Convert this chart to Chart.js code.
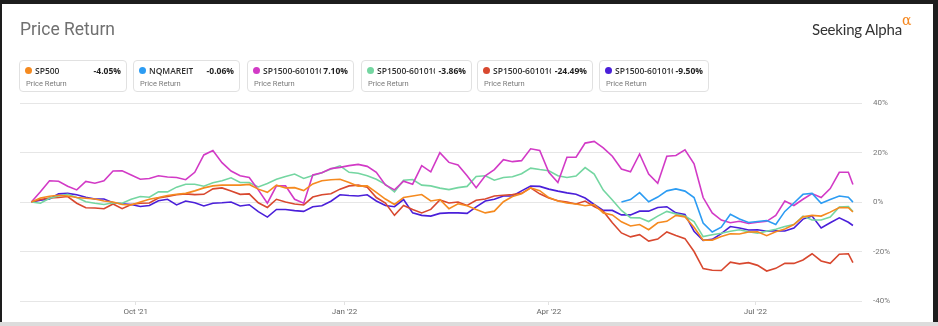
<!DOCTYPE html>
<html>
<head>
<meta charset="utf-8">
<script src="https://cdn.jsdelivr.net/npm/chart.js@4/dist/chart.umd.min.js"></script>
<style>
  html, body { margin: 0; padding: 0; }
  body { width: 938px; height: 326px; position: relative; overflow: hidden; background: #1d1d1d;
         font-family: Roboto, "Noto Sans", sans-serif; }
  #card { position: absolute; left: 2px; top: 4px; width: 931px; height: 318px; background: #fff; }
  #foot { position: absolute; left: 0; top: 322px; width: 938px; height: 4px; background: #dcdcdc; }
  #chart { position: absolute; left: 0; top: 0; }
  .title { position: absolute; left: 20px; top: 18px; font-size: 17.5px; line-height: 22px; color: #707070; }
  .brand { position: absolute; left: 812px; top: 20px; font-family: Lato, sans-serif; font-size: 15px;
           line-height: 18px; color: #333; letter-spacing: -0.2px; white-space: nowrap; }
  .alpha { position: absolute; left: 902px; top: 12px; color: #f5871f; font-size: 14px; line-height: 16px;
           font-family: "DejaVu Serif", serif; }
  .leg { position: absolute; top: 60px; height: 32px; box-sizing: border-box; border: 1px solid #e1e1e1;
         border-radius: 4px; background: #fff; }
  .dot { position: absolute; left: 4.5px; top: 6.2px; width: 7px; height: 7px; border-radius: 50%; }
  .row { position: absolute; left: 15px; right: 5px; top: 3.5px; display: flex;
         font-family: "Open Sans", sans-serif; font-size: 8.5px; line-height: 12px; }
  .nm { flex: 0 0 auto; overflow: hidden; white-space: nowrap; max-width: 57.5px; color: #2f2f2f; font-weight: 600; }
  .val { margin-left: auto; flex: 0 0 auto; white-space: nowrap; font-weight: 700; color: #1f1f1f; }
  .sub { position: absolute; left: 6px; top: 17.5px; font-size: 7.5px; line-height: 9px; color: #7a7a7a; }
</style>
</head>
<body>
<div id="card"></div>
<div id="foot"></div>
<canvas id="chart" width="938" height="326"></canvas>
<div class="title">Price Return</div>
<div class="brand">Seeking Alpha</div>
<div class="alpha">α</div>
<div id="legend"></div>
<script>
// Days counted from 16 Aug 2021 (start of the one-year window).
const days = [
  0, 4, 8, 12, 16, 20, 24, 28, 32, 36, 40, 44, 48, 52, 56, 60, 64, 68, 72, 76,
  80, 84, 88, 92, 96, 100, 104, 108, 112, 116, 120, 124, 128, 132, 136, 140, 144, 148, 152, 156,
  160, 164, 168, 172, 176, 180, 184, 188, 192, 196, 200, 204, 208, 212, 216, 220, 224, 228, 232, 236,
  240, 244, 248, 252, 256, 260, 264, 268, 272, 276, 280, 284, 288, 292, 296, 300, 304, 308, 312, 316,
  320, 324, 328, 332, 336, 340, 344, 348, 352, 356, 360, 362
];

// Cumulative price return, %
const sp500 = [
  0, 1.6, 2.3, 2.7, 2.4, 1.8, 1.5, 1.2, 0.4, 0,
  -1.0, -1.2, 0, 1.1, 1.8, 2.6, 3.1, 3.5, 4.5, 5.7,
  6.5, 6.8, 6.8, 6.8, 7.1, 5.2, 3.9, 6.8, 5.7, 5.8,
  4.6, 7.3, 8.6, 9.0, 9.2, 7.9, 6.4, 6.5, 3.9, 1.2,
  -1.0, 1.8, 2.4, 3.0, 0.4, 1.0, -2.7, -0.7, -1.5, -3.0,
  -4.4, -3.7, 0.1, 2.2, 3.3, 5.7, 4.6, 1.8, 0.4, -0.4,
  -0.8, -1.5, -1.0, -4.4, -5.2, -8.0, -9.7, -9.1, -11.2, -8.4,
  -7.8, -5.4, -6.0, -10.2, -15.4, -15.4, -13.9, -12.8, -12.9, -12.1,
  -12.0, -13.6, -12.0, -10.9, -9.1, -6.0, -5.4, -5.7, -4.1, -2.2,
  -2.3, -4.05
];

const nqmareit = [
  null, null, null, null, null, null, null, null, null, null,
  null, null, null, null, null, null, null, null, null, null,
  null, null, null, null, null, null, null, null, null, null,
  null, null, null, null, null, null, null, null, null, null,
  null, null, null, null, null, null, null, null, null, null,
  null, null, null, null, null, null, null, null, null, null,
  null, null, null, null, null, 0, 1.0, 3.8, 0.1, 2.0,
  4.5, 5.3, 4.4, 1.8, -8.5, -12.1, -10.2, -5.0, -6.9, -8.3,
  -7.9, -7.5, -9.1, -3.8, -0.4, 3.1, 3.5, -0.5, 1.0, 2.4,
  1.9, -0.06
];

const sp1500A = [
  0, 4.1, 8.6, 8.4, 6.4, 4.9, 8.3, 7.6, 8.6, 12.5,
  12.6, 10.9, 9.2, 9.5, 10.6, 10.1, 9.9, 9.0, 12.0, 19.0,
  20.8, 15.9, 12.5, 10.6, 9.9, 4.9, -0.5, 6.5, 6.5, 1.1,
  -0.5, 10.9, 11.8, 13.5, 14.0, 14.7, 15.2, 14.4, 12.0, 6.9,
  4.9, 8.4, 7.2, 14.7, 12.2, 19.9, 16.0, 15.0, 10.6, 5.8,
  10.6, 13.1, 17.1, 16.3, 16.7, 21.5, 20.8, 12.0, 7.9, 18.1,
  18.1, 23.8, 24.5, 21.9, 18.5, 13.3, 12.2, 19.4, 11.3, 7.6,
  18.5, 18.8, 21.1, 15.4, 1.8, -4.4, -7.3, -8.4, -7.8, -8.7,
  -8.2, -7.8, -5.4, 0.4, -1.4, 1.1, 3.4, 1.8, 5.4, 12.0,
  12.0, 7.10
];

const sp1500B = [
  0, -0.5, 1.5, 2.4, 3.1, 1.8, 0.1, -0.5, -1.0, -0.3,
  -0.5, 1.1, 2.2, 1.9, 4.1, 4.1, 6.0, 7.2, 7.2, 6.4,
  7.8, 8.6, 9.8, 7.9, 7.9, 6.1, 7.5, 9.2, 10.3, 11.3,
  9.5, 10.7, 11.8, 13.3, 14.6, 12.0, 11.6, 10.6, 9.2, 7.1,
  4.1, 8.8, 9.1, 6.8, 6.5, 5.6, 5.0, 5.8, 6.3, 10.3,
  10.6, 8.8, 9.9, 10.2, 11.4, 13.7, 13.1, 12.6, 10.6, 9.9,
  10.5, 13.9, 11.3, 4.8, 0.8, -3.4, -6.3, -6.4, -7.9, -5.7,
  -3.8, -4.8, -5.7, -7.9, -14.0, -13.2, -12.6, -11.8, -11.2, -12.0,
  -12.6, -11.8, -11.0, -9.9, -9.1, -5.7, -7.3, -7.3, -6.1, -2.0,
  -1.8, -3.86
];

const sp1500C = [
  0, 1.0, 1.6, 1.8, 2.2, -0.5, -2.3, -2.4, -2.7, -0.8,
  -2.7, -1.0, -0.5, -0.4, 1.6, 2.2, 2.9, 3.3, 3.0, 3.1,
  5.3, 5.7, 4.4, 3.1, 3.3, -0.3, -2.2, 1.1, 0, -0.8,
  -1.2, 2.0, 2.9, 3.3, 5.2, 6.5, 6.8, 6.0, 1.8, -0.4,
  -5.4, -1.4, -3.0, -4.4, -3.0, 0.8, -0.4, 0, -1.4, 0.7,
  1.2, 2.4, 2.7, 3.0, 3.5, 5.7, 3.3, 1.6, 0.5, 0,
  -0.8, 0.4, -1.8, -3.7, -8.4, -12.5, -14.1, -13.2, -15.8, -15.0,
  -12.1, -13.5, -14.8, -20.0, -26.9, -27.6, -27.7, -24.3, -25.0, -24.5,
  -25.6, -27.9, -26.8, -24.8, -24.8, -23.4, -20.9, -23.8, -24.8, -21.1,
  -20.9, -24.49
];

const sp1500D = [
  0, 0.7, 1.2, 3.3, 3.5, 2.9, 1.9, 1.2, 1.2, -0.3,
  -0.7, -1.0, -1.8, -1.4, 0.5, 1.1, -1.2, 0.4, -0.3, -1.6,
  -0.5, -0.3, 0, -1.6, -1.1, -3.9, -6.1, -3.0, -3.0, -3.5,
  -3.8, -1.9, -1.5, 0.3, 2.9, 2.6, 2.4, 2.9, 0.4, -1.4,
  -1.9, 1.0, -4.4, -5.4, -5.7, -4.6, -4.4, -4.4, -4.6, -2.0,
  0.4, 1.1, 2.4, 2.4, 4.5, 6.4, 6.3, 5.2, 4.4, 3.7,
  3.1, 1.6, -1.0, -3.4, -3.4, -5.2, -5.2, -3.7, -3.7, -2.2,
  -1.9, -4.4, -5.0, -11.8, -15.5, -15.1, -12.8, -9.9, -10.5, -11.3,
  -11.2, -11.8, -11.6, -11.7, -10.5, -6.9, -5.7, -10.5, -8.4, -6.4,
  -8.2, -9.50
];

const seriesNames = ['SP500', 'NQMAREIT', 'SP1500-60101060', 'SP1500-60101020', 'SP1500-60101040', 'SP1500-60101080'];
const seriesValues = [sp500, nqmareit, sp1500A, sp1500B, sp1500C, sp1500D];
const seriesColors = ['#f58a1f', '#2c9cf3', '#d23ac6', '#74d6a1', '#d8482f', '#4a1fd9'];
const subLabel = 'Price Return';

const tickDays = [46, 138, 228, 319];
const tickLabels = ["Oct '21", "Jan '22", "Apr '22", "Jul '22"];
const yTicks = [-40, -20, 0, 20, 40];

// Legend cards above the plot
const cardLeft = [19, 133, 247, 361, 477, 599];
const cardWidth = [108, 107, 107, 111, 116, 110];
const legend = document.getElementById('legend');
seriesNames.forEach((name, i) => {
  const vals = seriesValues[i];
  const last = vals[vals.length - 1];
  const card = document.createElement('div');
  card.className = 'leg';
  card.style.left = cardLeft[i] + 'px';
  card.style.width = cardWidth[i] + 'px';
  card.innerHTML =
    '<span class="dot" style="background:' + seriesColors[i] + '"></span>' +
    '<div class="row"><span class="nm">' + name + '</span><span class="val">' + last.toFixed(2) + '%</span></div>' +
    '<div class="sub">' + subLabel + '</div>';
  legend.appendChild(card);
});

Chart.defaults.font.family = 'Roboto, "Noto Sans", sans-serif';

new Chart(document.getElementById('chart'), {
  type: 'line',
  data: {
    datasets: seriesNames.map((name, i) => ({
      label: name,
      data: days.map((d, j) => ({ x: d, y: seriesValues[i][j] })),
      borderColor: seriesColors[i],
      backgroundColor: seriesColors[i],
      borderWidth: 1.6,
      pointRadius: 0,
      tension: 0,
      spanGaps: false
    }))
  },
  options: {
    responsive: false,
    animation: false,
    devicePixelRatio: 1,
    layout: { padding: { left: 20, top: 103, right: 0, bottom: 0 } },
    plugins: { legend: { display: false }, tooltip: { enabled: false } },
    scales: {
      x: {
        type: 'linear',
        min: -5,
        max: 366,
        afterBuildTicks: axis => { axis.ticks = tickDays.map(v => ({ value: v })); },
        afterFit: axis => { axis.height = 25; },
        grid: { drawOnChartArea: false, drawTicks: true, tickLength: 4, color: '#e2e2e2' },
        border: { display: false },
        ticks: {
          autoSkip: false, maxRotation: 0, padding: 2,
          font: { size: 8 }, color: '#666',
          callback: v => tickLabels[tickDays.indexOf(v)]
        }
      },
      y: {
        position: 'right',
        min: -40,
        max: 40,
        afterBuildTicks: axis => { axis.ticks = yTicks.map(v => ({ value: v })); },
        afterFit: axis => { axis.width = 76; },
        grid: { color: '#e6e6e6', drawTicks: false },
        border: { display: false },
        ticks: { padding: 11, font: { size: 8 }, color: '#777', callback: v => v + '%' }
      }
    }
  }
});
</script>
</body>
</html>
